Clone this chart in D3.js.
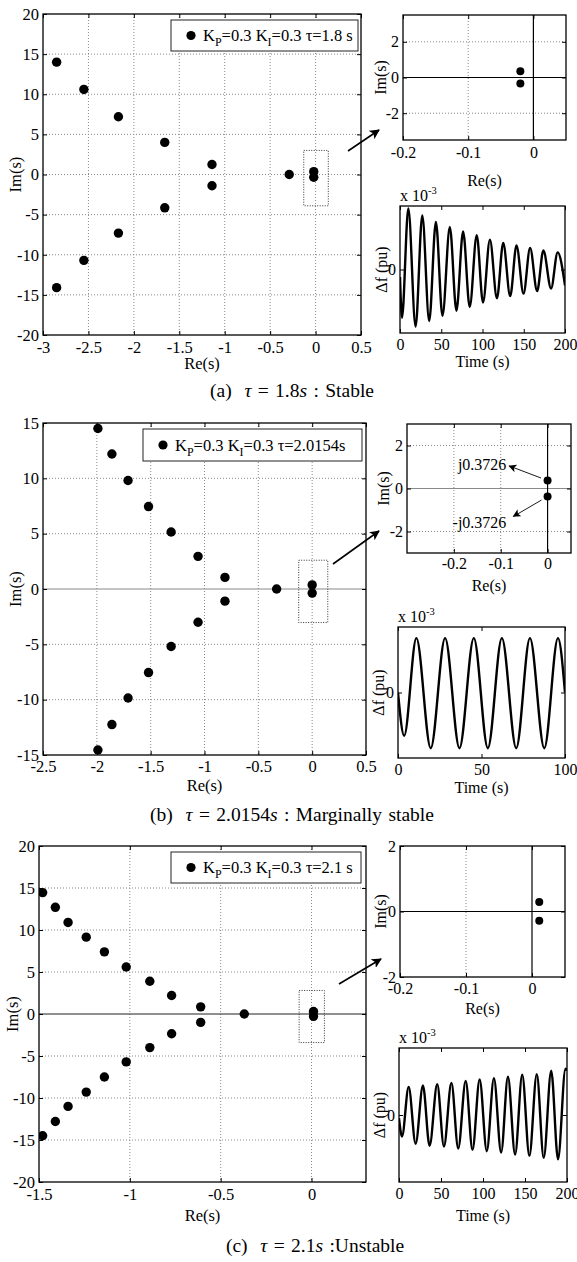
<!DOCTYPE html>
<html><head><meta charset="utf-8">
<script src="https://cdn.jsdelivr.net/npm/d3@7"></script>
<style>
body{margin:0;background:#fff;}
svg{display:block;}
text{font-family:"Liberation Serif","Times New Roman",serif;fill:#000;}
</style></head><body>
<svg id="chart" width="577" height="1262"></svg>
<script>
// ---------------- DATA ----------------
// Panel (a) tau = 1.8 s : poles (Re, Im)
const polesA_re = [-2.85, -2.55, -2.17, -1.66, -1.14, -0.29, -0.02, -0.02, -1.14, -1.66, -2.17, -2.55, -2.85];
const polesA_im = [14.0, 10.6, 7.2, 4.0, 1.25, 0, 0.35, -0.34, -1.4, -4.15, -7.3, -10.7, -14.1];
// Panel (b) tau = 2.0154 s
const polesB_re = [-1.99, -1.86, -1.71, -1.52, -1.31, -1.06, -0.81, -0.33, 0, 0, -0.81, -1.06, -1.31, -1.52, -1.71, -1.86, -1.99];
const polesB_im = [14.5, 12.2, 9.8, 7.45, 5.15, 2.95, 1.05, 0, 0.3726, -0.3726, -1.1, -3.0, -5.2, -7.55, -9.85, -12.25, -14.55];
// Panel (c) tau = 2.1 s
const polesC_re = [-1.48, -1.41, -1.34, -1.24, -1.14, -1.02, -0.89, -0.77, -0.61, -0.37, 0.011, 0.011, -0.61, -0.77, -0.89, -1.02, -1.14, -1.24, -1.34, -1.41, -1.48];
const polesC_im = [14.45, 12.7, 10.9, 9.15, 7.4, 5.6, 3.9, 2.2, 0.85, 0, 0.29, -0.28, -1.0, -2.35, -4.0, -5.7, -7.5, -9.3, -11.0, -12.8, -14.5];

// dotted zoom boxes [reMin, reMax, imMin, imMax]
const boxA = [-0.13, 0.14, -3.9, 3.0];
const boxB = [-0.125, 0.145, -3.03, 2.6];
const boxC = [-0.068, 0.071, -3.4, 2.8];

// time responses (extrema), t in s, value in x10^-3 (relative)
const respA_t = [0, 2.4, 10.1, 18.9, 27.0, 35.4, 43.5, 51.5, 60.4, 68.4, 76.5, 84.5, 93.0, 100.6, 109.0, 117.5, 125.1, 133.6, 141.2, 149.7, 157.7, 166.2, 173.8, 183.1, 191.1, 200];
const respA_v = [-0.12, -0.76, 0.96, -0.90, 0.85, -0.81, 0.75, -0.73, 0.67, -0.65, 0.60, -0.59, 0.54, -0.52, 0.47, -0.455, 0.42, -0.42, 0.38, -0.38, 0.34, -0.34, 0.30, -0.30, 0.27, -0.25];
const respB_t = [0, 3.7, 11.0, 19.6, 28.2, 36.8, 45.4, 53.8, 62.2, 70.8, 79.0, 87.6, 95.8, 100];
const respB_v = [0, -0.66, 0.83, -0.85, 0.83, -0.85, 0.83, -0.85, 0.83, -0.85, 0.83, -0.85, 0.83, 0];
const respC_t = [0, 3.6, 11.5, 19.8, 28.5, 36.4, 45.5, 53.5, 62.4, 70.5, 79.4, 87.5, 96.0, 104.5, 113.0, 121.6, 129.7, 138.2, 146.7, 155.2, 164.0, 172.3, 181.2, 189.3, 198.2, 200];
const respC_v = [-0.05, -0.32, 0.42, -0.43, 0.44, -0.46, 0.46, -0.47, 0.48, -0.50, 0.51, -0.52, 0.53, -0.54, 0.55, -0.56, 0.57, -0.59, 0.60, -0.61, 0.61, -0.64, 0.66, -0.66, 0.69, 0.66];

// tick values
const mainXTicksA = [-3, -2.5, -2, -1.5, -1, -0.5, 0, 0.5];
const mainYTicksA = [-20, -15, -10, -5, 0, 5, 10, 15, 20];
const mainXTicksB = [-2.5, -2, -1.5, -1, -0.5, 0, 0.5];
const mainYTicksB = [-15, -10, -5, 0, 5, 10, 15];
const mainXTicksC = [-1.5, -1, -0.5, 0];
const mainYTicksC = [-20, -15, -10, -5, 0, 5, 10, 15, 20];
const insetXTicks = [-0.2, -0.1, 0];
const insetYTicks = [-2, 0, 2];
const timeTicks200 = [0, 50, 100, 150, 200];
const timeTicks100 = [0, 50, 100];
const timeYTicks = [0];

// texts
const legendA = ["K", "P", "=0.3 K", "I", "=0.3 τ=1.8 s"];
const legendB = ["K", "P", "=0.3 K", "I", "=0.3 τ=2.0154s"];
const legendC = ["K", "P", "=0.3 K", "I", "=0.3 τ=2.1 s"];
const captionA = ["(a)  ", "τ", " = 1.8", "s", " : Stable"];
const captionB = ["(b)  ", "τ", " = 2.0154", "s", " : Marginally stable"];
const captionC = ["(c)  ", "τ", " = 2.1", "s", " :Unstable"];
const annB = [
  {label: "j0.3726", from: [0, 0.3726], to: [-0.082, 1.05], textAt: [-0.088, 0.86]},
  {label: "-j0.3726", from: [0, -0.3726], to: [-0.073, -1.30], textAt: [-0.088, -1.84]}
];

// ---------------- DRAWING ----------------
const svg = d3.select("#chart");
const defs = svg.append("defs");
function marker(id, size) {
  defs.append("marker").attr("id", id).attr("viewBox", "0 0 10 10").attr("refX", 9).attr("refY", 5)
    .attr("markerUnits", "userSpaceOnUse").attr("markerWidth", size).attr("markerHeight", size)
    .attr("orient", "auto").append("path").attr("d", "M0,0 L10,5 L0,10 L2.5,5 z").attr("fill", "#000");
}
marker("ahBig", 10);
marker("ahSmall", 8);

let clipN = 0;
function drawAxes(cfg) {
  const g = svg.append("g");
  const x = d3.scaleLinear().domain(cfg.xd).range([cfg.x0, cfg.x1]);
  const y = d3.scaleLinear().domain(cfg.yd).range([cfg.y1, cfg.y0]);
  const id = "clip" + (clipN++);
  defs.append("clipPath").attr("id", id).append("rect")
    .attr("x", cfg.x0).attr("y", cfg.y0).attr("width", cfg.x1 - cfg.x0).attr("height", cfg.y1 - cfg.y0);
  g.append("rect").attr("x", cfg.x0).attr("y", cfg.y0).attr("width", cfg.x1 - cfg.x0).attr("height", cfg.y1 - cfg.y0).attr("fill", "#fff");
  g.selectAll(null).data(cfg.gx || []).join("line")
    .attr("x1", d => x(d)).attr("x2", d => x(d)).attr("y1", cfg.y0).attr("y2", cfg.y1)
    .attr("stroke", "#8a8a8a").attr("stroke-width", 1).attr("stroke-dasharray", "1,2");
  g.selectAll(null).data(cfg.gy || []).join("line")
    .attr("y1", d => y(d)).attr("y2", d => y(d)).attr("x1", cfg.x0).attr("x2", cfg.x1)
    .attr("stroke", "#8a8a8a").attr("stroke-width", 1).attr("stroke-dasharray", "1,2");
  if (cfg.zeroY) g.append("line").attr("x1", cfg.x0).attr("x2", cfg.x1).attr("y1", y(0)).attr("y2", y(0)).attr("stroke", cfg.zeroY).attr("stroke-width", 1.2);
  if (cfg.zeroX) g.append("line").attr("y1", cfg.y0).attr("y2", cfg.y1).attr("x1", x(0)).attr("x2", x(0)).attr("stroke", cfg.zeroX).attr("stroke-width", 1.2);
  const fmt = d => String(d);
  const tk = 4;
  const fs = cfg.fs || 16.5;
  const style = sel => {
    sel.select(".domain").remove();
    sel.attr("font-family", null).attr("font-size", fs);
    sel.selectAll("line").attr("stroke", "#000");
  };
  g.append("g").attr("transform", `translate(0,${cfg.y1})`)
    .call(d3.axisBottom(x).tickValues(cfg.xt).tickFormat(fmt).tickSizeInner(-tk).tickSizeOuter(0).tickPadding(cfg.xpad || 5)).call(style);
  g.append("g").attr("transform", `translate(0,${cfg.y0})`)
    .call(d3.axisTop(x).tickValues(cfg.xt).tickFormat("").tickSizeInner(-tk).tickSizeOuter(0)).call(style);
  g.append("g").attr("transform", `translate(${cfg.x0},0)`)
    .call(d3.axisLeft(y).tickValues(cfg.yt).tickFormat(fmt).tickSizeInner(-tk).tickSizeOuter(0).tickPadding(cfg.ypad || 4)).call(style);
  g.append("g").attr("transform", `translate(${cfg.x1},0)`)
    .call(d3.axisRight(y).tickValues(cfg.yt).tickFormat("").tickSizeInner(-tk).tickSizeOuter(0)).call(style);
  g.append("rect").attr("x", cfg.x0).attr("y", cfg.y0).attr("width", cfg.x1 - cfg.x0).attr("height", cfg.y1 - cfg.y0)
    .attr("fill", "none").attr("stroke", "#000").attr("stroke-width", 1.3);
  if (cfg.xlabel) g.append("text").attr("x", (cfg.x0 + cfg.x1) / 2).attr("y", cfg.xlabelY).attr("text-anchor", "middle").attr("font-size", fs).text(cfg.xlabel);
  if (cfg.ylabel) g.append("text").attr("transform", `translate(${cfg.ylabelX},${(cfg.y0 + cfg.y1) / 2}) rotate(-90)`)
    .attr("text-anchor", "middle").attr("dy", "0.35em").attr("font-size", fs).text(cfg.ylabel);
  const plot = g.append("g").attr("clip-path", `url(#${id})`);
  return {x, y, g, plot};
}

function drawPoles(ax, re, im, r) {
  ax.plot.selectAll(null).data(d3.range(re.length)).join("circle")
    .attr("cx", i => ax.x(re[i])).attr("cy", i => ax.y(im[i])).attr("r", r).attr("fill", "#000");
}
function drawBox(ax, b) {
  ax.g.append("rect").attr("x", ax.x(b[0])).attr("y", ax.y(b[3]))
    .attr("width", ax.x(b[1]) - ax.x(b[0])).attr("height", ax.y(b[2]) - ax.y(b[3]))
    .attr("fill", "none").attr("stroke", "#333").attr("stroke-width", 1).attr("stroke-dasharray", "1,1.5");
}
function drawLegend(L, parts) {
  const g = svg.append("g");
  g.append("rect").attr("x", L.x).attr("y", L.y).attr("width", L.w).attr("height", L.h).attr("fill", "#fff").attr("stroke", "#222").attr("stroke-width", 1);
  g.append("circle").attr("cx", L.x + 20).attr("cy", L.y + L.h / 2).attr("r", 4.6).attr("fill", "#000");
  const t = g.append("text").attr("x", L.x + 32).attr("y", L.y + L.h / 2 + 5.5).attr("font-size", 16.5);
  parts.forEach((p, i) => {
    const sub = i % 2 === 1;
    t.append("tspan").attr("font-size", sub ? 12 : 16.5).attr("dy", sub ? 5 : (i > 0 ? -5 : 0)).text(p);
  });
}
function drawArrow(p, q) {
  svg.append("line").attr("x1", p[0]).attr("y1", p[1]).attr("x2", q[0]).attr("y2", q[1])
    .attr("stroke", "#000").attr("stroke-width", 1.6).attr("marker-end", "url(#ahBig)");
}
function drawResponse(ax, t, v) {
  const line = d3.line().x(i => ax.x(t[i])).y(i => ax.y(v[i])).curve(d3.curveMonotoneX);
  ax.plot.append("path").attr("d", line(d3.range(t.length))).attr("fill", "none").attr("stroke", "#000").attr("stroke-width", 2.4);
}
function drawScale(ax, cfg) {
  const t = ax.g.append("text").attr("x", cfg.x0).attr("y", cfg.y0 - 5).attr("font-size", 16);
  t.append("tspan").text("x 10");
  t.append("tspan").attr("font-size", 10.5).attr("dy", -7).text("-3");
}
function drawCaption(parts, cx, y) {
  const t = svg.append("text").attr("x", cx).attr("y", y).attr("text-anchor", "middle").attr("font-size", 19.5)
    .attr("word-spacing", 1.5).attr("xml:space", "preserve");
  parts.forEach((p, i) => t.append("tspan").attr("font-style", (i === 1 || i === 3) ? "italic" : null).text(p));
}

// ---------- Panel (a) ----------
const mA = drawAxes({x0: 43, x1: 361, y0: 14, y1: 335, xd: [-3, 0.5], yd: [-20, 20], xt: mainXTicksA, yt: mainYTicksA,
  gx: [-2.5, -2, -1.5, -1, -0.5, 0], gy: [-15, -10, -5, 0, 5, 10, 15], xlabel: "Re(s)", xlabelY: 369, ylabel: "Im(s)", ylabelX: 15, xpad: 6});
drawPoles(mA, polesA_re, polesA_im, 4.7);
drawBox(mA, boxA);
drawLegend({x: 171, y: 20, w: 187, h: 31}, legendA);
drawArrow([348, 151], [379, 130]);
const iA = drawAxes({x0: 403, x1: 566, y0: 15, y1: 140, xd: [-0.2, 0.05], yd: [-3.5, 3.5], xt: insetXTicks, yt: insetYTicks,
  gx: [-0.1], gy: [-2, 2], zeroX: "#000", zeroY: "#000", xlabel: "Re(s)", xlabelY: 186, ylabel: "Im(s)", ylabelX: 380, xpad: 7, fs: 16});
drawPoles(iA, polesA_re, polesA_im, 4);
const tAcfg = {x0: 400, x1: 565, y0: 206, y1: 333, xd: [0, 200], yd: [-1, 1], xt: timeTicks200, yt: timeYTicks,
  xlabel: "Time (s)", xlabelY: 367, ylabel: "Δf (pu)", ylabelX: 381, xpad: 6, fs: 16};
const tA = drawAxes(tAcfg);
drawResponse(tA, respA_t, respA_v);
drawScale(tA, tAcfg);
drawCaption(captionA, 292, 397);

// ---------- Panel (b) ----------
const mB = drawAxes({x0: 43, x1: 366, y0: 423, y1: 755, xd: [-2.5, 0.5], yd: [-15, 15], xt: mainXTicksB, yt: mainYTicksB,
  gx: [-2, -1.5, -1, -0.5, 0], gy: [-10, -5, 5, 10], zeroY: "#8a8a8a", xlabel: "Re(s)", xlabelY: 791, ylabel: "Im(s)", ylabelX: 15, xpad: 5});
drawPoles(mB, polesB_re, polesB_im, 4.7);
drawBox(mB, boxB);
drawLegend({x: 143, y: 429, w: 219, h: 32}, legendB);
drawArrow([333, 564], [379, 531]);
const iB = drawAxes({x0: 407, x1: 571, y0: 424, y1: 553, xd: [-0.3, 0.05], yd: [-3, 3], xt: insetXTicks, yt: insetYTicks,
  gx: [-0.2, -0.1], gy: [-2, 2], zeroX: "#000", zeroY: "#8a8a8a", xlabel: "Re(s)", xlabelY: 591, ylabel: "Im(s)", ylabelX: 383, xpad: 5, fs: 16});
drawPoles(iB, polesB_re, polesB_im, 4);
annB.forEach(a => {
  const p = [iB.x(a.from[0]), iB.y(a.from[1])], q = [iB.x(a.to[0]), iB.y(a.to[1])];
  const dx = q[0] - p[0], dy = q[1] - p[1], L = Math.hypot(dx, dy);
  iB.g.append("line").attr("x1", p[0] + dx / L * 7).attr("y1", p[1] + dy / L * 7).attr("x2", q[0]).attr("y2", q[1])
    .attr("stroke", "#000").attr("stroke-width", 0.9).attr("marker-end", "url(#ahSmall)");
  iB.g.append("text").attr("x", iB.x(a.textAt[0])).attr("y", iB.y(a.textAt[1])).attr("text-anchor", "end")
    .attr("font-family", "'Liberation Sans', Arial, sans-serif").attr("font-size", 16).text(a.label);
});
const tBcfg = {x0: 398, x1: 565, y0: 627, y1: 758, xd: [0, 100], yd: [-1, 1], xt: timeTicks100, yt: timeYTicks,
  xlabel: "Time (s)", xlabelY: 793, ylabel: "Δf (pu)", ylabelX: 378, xpad: 6, fs: 16};
const tB = drawAxes(tBcfg);
drawResponse(tB, respB_t, respB_v);
drawScale(tB, tBcfg);
drawCaption(captionB, 292, 821);

// ---------- Panel (c) ----------
const mC = drawAxes({x0: 39, x1: 366, y0: 846, y1: 1182, xd: [-1.5, 0.3], yd: [-20, 20], xt: mainXTicksC, yt: mainYTicksC,
  gx: [-1, -0.5, 0], gy: [-15, -10, -5, 5, 10, 15], zeroY: "#222", xlabel: "Re(s)", xlabelY: 1221, ylabel: "Im(s)", ylabelX: 12, xpad: 6});
drawPoles(mC, polesC_re, polesC_im, 4.7);
drawBox(mC, boxC);
drawLegend({x: 171, y: 852, w: 190, h: 31}, legendC);
drawArrow([339, 984], [381, 959]);
const iC = drawAxes({x0: 400, x1: 565, y0: 846, y1: 977, xd: [-0.2, 0.05], yd: [-2, 2], xt: insetXTicks, yt: insetYTicks,
  gx: [-0.1], gy: [], zeroX: "#000", zeroY: "#000", xlabel: "Re(s)", xlabelY: 1014, ylabel: "Im(s)", ylabelX: 380, xpad: 6, fs: 16});
drawPoles(iC, polesC_re, polesC_im, 4);
const tCcfg = {x0: 399, x1: 567, y0: 1048, y1: 1182, xd: [0, 200], yd: [-1, 1], xt: timeTicks200, yt: timeYTicks,
  xlabel: "Time (s)", xlabelY: 1221, ylabel: "Δf (pu)", ylabelX: 379, xpad: 6, fs: 16};
const tC = drawAxes(tCcfg);
drawResponse(tC, respC_t, respC_v);
drawScale(tC, tCcfg);
drawCaption(captionC, 315, 1252);
</script>
</body></html>
